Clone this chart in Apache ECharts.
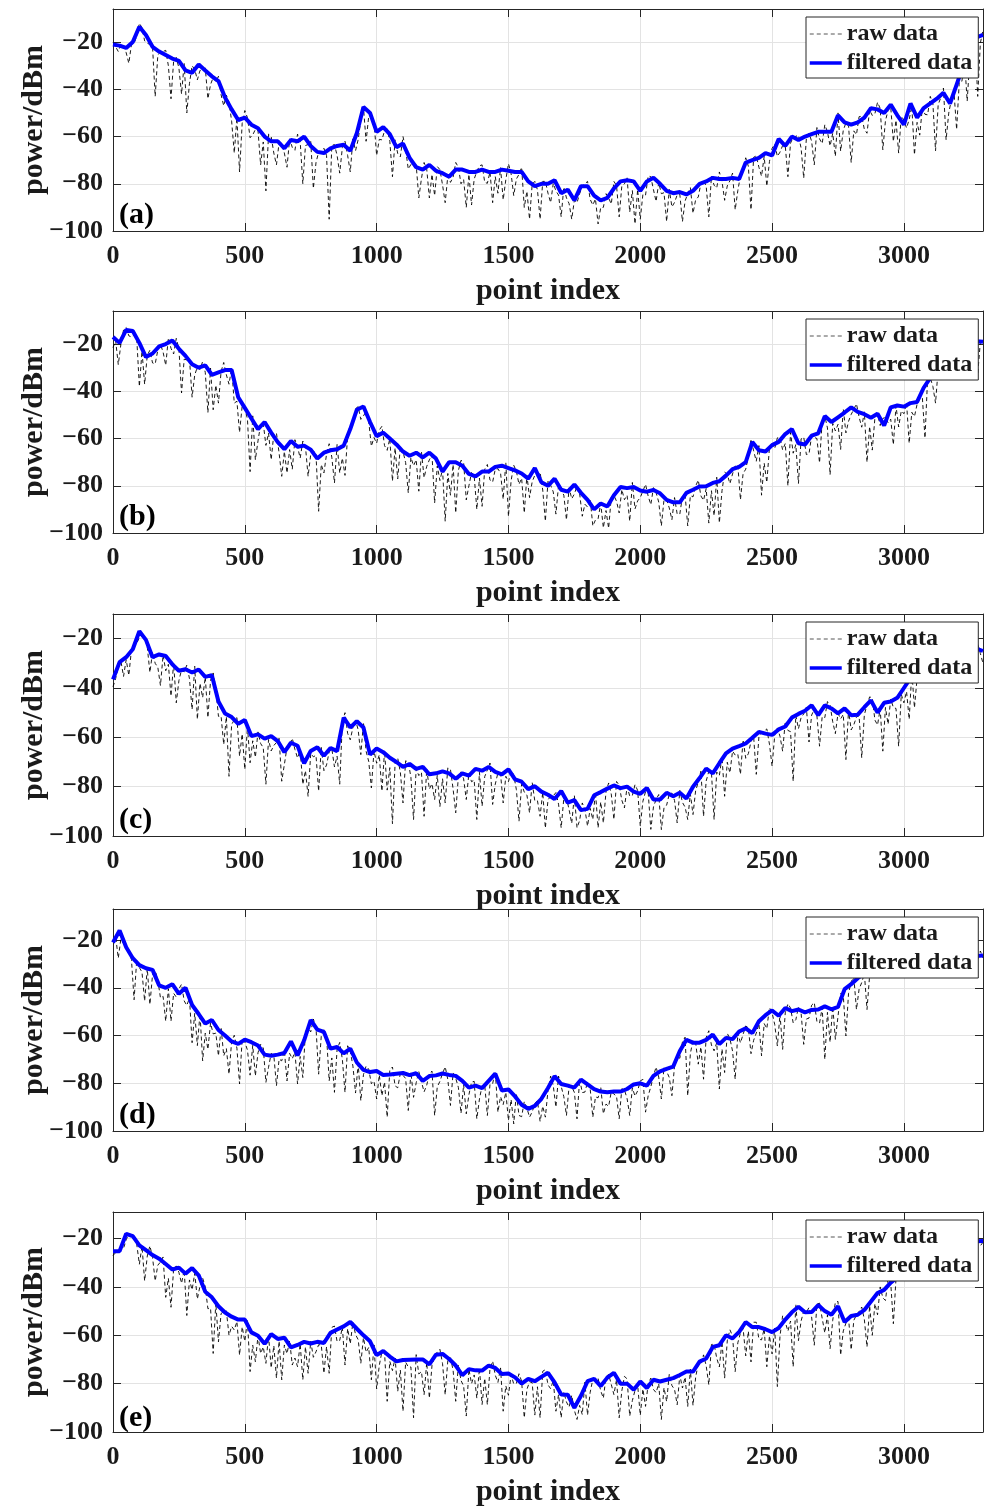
<!DOCTYPE html>
<html><head><meta charset="utf-8">
<script src="https://cdn.jsdelivr.net/npm/echarts@6/dist/echarts.min.js"></script>
<style>html,body{margin:0;padding:0;background:#fff}#c{width:986px;height:1508px}</style>
</head><body><div id="c"></div>
<script>
// ---------- data ----------
const panelLabels = ['(a)', '(b)', '(c)', '(d)', '(e)'];
const seriesNames = ['raw data', 'filtered data'];
const xName = 'point index';
const yName = 'power/dBm';
const xMin = 0, xMax = 3300, xTickStep = 500;
const yMin = -100, yTickStep = 20;
const yMaxes = [-6, -6, -10, -7, -9];
const filtStep = 25;   // filtered samples every 25 points (starting at 0)
const rawStep = 20;    // raw samples: "even" set at 0,20,40..., "odd" set at 10,30,50...
const rawOddStart = 10;

const filtA = [-21,-21.5,-22.5,-20,-13.5,-17,-22,-24,-25.5,-27,
-28,-32,-33,-29.5,-32,-34.5,-36.5,-43.5,-48.5,-53,
-52,-55,-56.5,-60,-62,-62,-65,-61.5,-62,-60,
-64,-66.5,-67,-65,-64,-63.5,-66,-58.5,-47.5,-50,
-58,-56,-59,-64.5,-63,-69,-73,-74,-72,-74.5,
-75.5,-77,-74,-74,-75,-75,-74,-75,-75,-74,
-74.5,-75,-75,-79,-81,-80,-80,-78.5,-84,-82.5,
-87,-81,-81,-85,-87,-86,-82,-79,-78.5,-79,
-83,-79,-77.5,-80,-83,-84,-83.5,-84.5,-83,-80,
-79,-77.5,-78,-78,-77.5,-78,-71,-70,-69,-67,
-68,-61,-64,-60,-61.5,-60,-59,-58,-58,-58,
-51,-54,-55,-54,-52,-48,-48.5,-50,-46.5,-51,
-55,-46,-52,-48,-46,-44,-41.5,-46,-38,-30,
-23,-18,-17];
const rawAEven = [-20,-24,-21.5,-29,-20.5,-12,-19.5,-21,-43,-24,
-23.5,-44,-26.5,-42,-50,-30,-36,-32,-44,-35,
-34.5,-47,-45.5,-67,-75,-49,-60.5,-57,-72,-83,
-60,-72,-62.8,-73,-64.6,-59,-80,-63.4,-82,-66.6,
-65,-95,-63.4,-75.5,-62,-75,-66,-53,-62,-51.6,
-68,-61.4,-56.8,-77,-67.2,-60,-73.8,-72.4,-86,-71,
-86,-85,-74,-88,-79.4,-71,-80,-90,-89,-74.8,
-72,-79.8,-88,-84,-86.8,-71.5,-85,-76,-90,-95,
-79,-95,-79,-88,-83,-94,-86,-95,-88,-81,
-79,-89,-97,-90,-86,-79,-94,-80,-92,-97,
-95,-84.8,-77,-87.5,-84.2,-96,-89.8,-84.7,-96,-84.2,
-92.5,-85.6,-78.4,-94,-80.6,-75,-87,-78.7,-91,-76.6,
-69,-91,-68.2,-76.8,-81,-65,-68.4,-63.8,-77,-60.3,
-59.5,-77.6,-58.6,-72,-61,-55,-64,-68.4,-66.2,-54.2,
-71,-59.2,-51.4,-58.6,-51.1,-45.5,-65.6,-48.9,-62.1,-67,
-53,-52.8,-67.7,-59.4,-50.6,-43,-66,-43.5,-61.4,-44.4,
-57,-36.6,-45,-30,-43,-15];
const rawAOdd = [-22,-21,-24.5,-21,-17.5,-14,-20.5,-22,-25.6,-24,
-30,-28,-31,-29,-37.6,-31.6,-32,-31,-38,-36.7,
-42.3,-42.5,-53.5,-52,-54.4,-52,-59.3,-57.5,-62.3,-59,
-67,-62.6,-67,-61,-65.8,-62,-63.8,-62,-71,-66.8,
-68,-63.8,-68,-64.6,-68,-61,-61.3,-47.5,-51.4,-53.8,
-61.2,-57.6,-62,-61.4,-68.6,-65.4,-71.8,-72,-77.8,-73.8,
-76,-72.7,-80.5,-76.7,-77.2,-73,-78.2,-76,-78,-72.4,
-79.4,-75,-77,-73.2,-78.3,-75.7,-78,-73,-83.2,-80.2,
-82.6,-79,-84,-79.8,-84.8,-81.4,-88.4,-87,-84.2,-80,
-86.6,-86.4,-90,-84.2,-88.6,-80.8,-80.9,-77.5,-82.9,-82.4,
-84.4,-76.7,-82.5,-79.5,-83.8,-82.4,-87.9,-84.5,-87.3,-81.6,
-86.8,-79.8,-81,-76.8,-81.8,-79,-80.9,-75.5,-82.9,-73.8,
-72.6,-68.8,-73,-68.4,-70.6,-63.2,-66.6,-64,-62.8,-59.9,
-64.9,-60.8,-62,-56.2,-63,-58,-58.6,-50,-57.4,-55.6,
-57.6,-51.6,-57,-48.8,-50.3,-48.1,-53.3,-47.5,-53.1,-51.4,
-56.4,-47.2,-54,-47.8,-50.8,-46.2,-46.5,-39.5,-50.1,-41.2,
-36.8,-27.6,-27,-20,-20.4];

const filtB = [-17,-19.5,-14,-14.5,-19.5,-25.5,-24,-21,-20,-18.5,
-22,-25,-28.5,-30,-29,-33,-32,-31,-31,-42.5,
-47,-51.5,-56,-53,-57.5,-61.5,-64.5,-61,-63.5,-63,
-64.7,-68.5,-66,-65,-64.5,-63,-56,-47.8,-46.4,-53,
-59,-57.5,-60,-62.5,-65.5,-67.3,-66,-68,-66,-68.5,
-74,-70,-70,-71.5,-75,-76,-74,-74,-72,-71.5,
-72.5,-73.5,-74.8,-77,-72.5,-78.5,-80,-77,-81.7,-82.5,
-79.5,-83,-86,-90,-87.5,-88.8,-84,-80.5,-81,-80.5,
-82,-82.5,-81.8,-83.2,-86,-87,-87,-83,-81.7,-80.3,
-80.2,-78.8,-78.1,-75.7,-73,-72,-70,-61.5,-65,-65.5,
-62.8,-61.4,-58.1,-56,-62,-62.5,-58.8,-57.8,-50.5,-53,
-51,-49,-46.8,-48.7,-49.7,-51.2,-49.5,-54.5,-46.8,-46,
-46.5,-45,-44.5,-38.5,-34.3,-31,-28,-25,-22.5,-20.5,
-19.5,-18.8,-19];
const rawBEven = [-21.5,-28.7,-14,-16.5,-16,-38,-37,-22.6,-28.4,-20.1,
-29,-21.8,-17.6,-40.7,-26.7,-42.5,-29.7,-27.4,-49,-47.8,
-45,-27.8,-37,-45,-57.4,-47,-74,-69,-54.1,-62.9,
-69,-57.7,-76,-74.6,-73,-63.5,-61.1,-76,-65.2,-90.8,
-74.6,-62.2,-78.8,-74.6,-75.6,-56,-47.4,-51.9,-48.6,-63.3,
-62,-54.8,-65,-78,-77.1,-65.5,-83,-71.5,-82.3,-76.6,
-69,-87.3,-77.8,-95,-84,-91.5,-69.2,-86,-74.4,-90,
-88.7,-71,-78.4,-72.8,-85.7,-93,-71.3,-79.4,-91.5,-85,
-75.5,-74.3,-95,-79.8,-92,-81.7,-94.4,-85.5,-80.1,-92.9,
-89,-97,-94,-97.8,-98,-84,-91.5,-85.9,-95,-89.8,
-85,-79.4,-88,-82.9,-97,-86,-94.4,-92,-84.4,-97,
-84.7,-77.6,-86.2,-95.8,-92.7,-95.7,-74.2,-79.1,-71.6,-85.9,
-73,-60.2,-69.6,-84,-78.6,-62.8,-59.7,-64.8,-80,-66.2,
-79,-59.4,-66.5,-59.5,-70.3,-50.5,-75.3,-56.8,-64.6,-57.6,
-49.8,-45.3,-55.2,-70,-64.9,-49.5,-51.5,-53.3,-62.6,-55.1,
-49.5,-62,-50.7,-43,-59.8,-34.3,-45,-34.2,-25.8,-33.5,
-25.5,-17.9,-25.9,-20.2,-32.8,-19];
const rawBOdd = [-18.5,-20,-13,-17,-17.5,-23,-24.7,-28,-22.6,-23.4,
-17.4,-24.2,-22,-26.4,-26.1,-33.1,-30.8,-32,-30.2,-37.4,
-31.6,-33,-30,-44.2,-46.2,-51.8,-50.4,-61,-53.6,-57.7,
-58.1,-66.1,-65.5,-64.7,-60.5,-68.3,-63.3,-66.7,-66.7,-71,
-66.6,-67.9,-62.5,-68.3,-58.8,-54.7,-46.5,-50.4,-52.7,-59.6,
-56.4,-63,-60,-64,-63.3,-70.2,-68,-69,-65.6,-71.8,
-67,-71.6,-73,-74.8,-71,-73.6,-70.2,-80,-75.8,-76.8,
-73,-77.6,-73,-74.6,-70.1,-77.9,-73.8,-76.8,-75.6,-78.3,
-75.9,-81.8,-78,-82.6,-79.8,-84,-80.9,-83.5,-83.3,-87.8,
-85.6,-94.5,-87.5,-90.5,-84.9,-86.6,-81.6,-84,-78.6,-86.4,
-82.2,-84.4,-80.8,-86.9,-85.9,-89.4,-85,-92,-83.8,-84.2,
-80.1,-84.3,-81.2,-82.1,-76.4,-82.1,-75.2,-75,-71.2,-74.8,
-67.6,-65.2,-63,-70.4,-63.9,-64.2,-59.7,-62.1,-57.4,-62.6,
-60.2,-66.8,-58.8,-60,-52.4,-55.5,-53.6,-54,-47.4,-52.7,
-47.6,-50.9,-48.7,-54.9,-51.2,-54.5,-51,-51.8,-46.2,-48.3,
-44.9,-48.9,-45.5,-42.7,-34,-38,-30.4,-30,-24.6,-27.5,
-22.7,-23.3,-17.5,-23.9,-18.9];

const filtC = [-36.5,-29.5,-27.5,-24.3,-17,-20.5,-27.5,-26.4,-27,-30.4,
-33,-32.4,-33.7,-32.5,-35.5,-34.8,-45.5,-50.3,-51.8,-54.5,
-53,-59.5,-58.8,-60.5,-59.5,-61.5,-66,-62.2,-63.4,-70.5,
-65.5,-64,-67.5,-64.3,-65.6,-52,-56,-53.5,-56,-67,
-64.5,-66,-68.3,-70,-72,-70.8,-72.8,-72,-75,-74.6,
-73.8,-74.6,-76.8,-74.6,-75.5,-72.8,-73.5,-72,-74,-75,
-73,-77,-78,-81,-79.8,-82,-83.3,-85,-81.8,-86.5,
-85.5,-89.5,-89,-83.5,-82.2,-80.8,-79.5,-80.6,-80,-82,
-82.9,-80.5,-85.2,-85.2,-82.5,-83.9,-82.5,-84.8,-80,-76.5,
-72.7,-74.6,-70.5,-66.5,-64.6,-63.6,-62.5,-60.2,-57.8,-58.5,
-59,-56.8,-55.6,-52,-50.5,-49.2,-47,-51,-47,-48.3,
-50.3,-48.3,-51,-50.8,-47.8,-45,-50,-46,-45.5,-44,
-40,-36,-33,-31,-29,-27.5,-26,-25,-24,-23.5,
-23.5,-24,-25];
const rawCEven = [-39.5,-31.4,-35.3,-34.9,-22,-19.5,-19.3,-33.7,-30,-39,
-33,-43.3,-46,-32.6,-30.7,-48.7,-52.7,-43.9,-52,-33.9,
-51.5,-62.9,-75.8,-52.9,-67.6,-73,-70.3,-68.1,-62.5,-79,
-65.5,-62.1,-77.8,-64.1,-60.4,-68.4,-79.1,-83.9,-67.9,-81.8,
-73.5,-65.9,-72,-79,-50,-61,-53,-67,-65.6,-80.5,
-70.5,-81.8,-81.4,-95,-68.4,-86.6,-70,-93.3,-75.5,-92,
-81,-85.2,-88.1,-86.6,-73,-90.6,-74,-85.2,-78,-93.3,
-87.9,-73.3,-87.2,-74.4,-86.6,-78,-75.2,-94,-82.2,-90.6,
-85.8,-92,-96.8,-84,-82.4,-96.7,-84.6,-94.9,-96.7,-86.6,
-96,-93.3,-96.7,-94.7,-78.5,-93.3,-79.4,-88.6,-83.8,-79.2,
-96,-82,-97.3,-85.2,-97.4,-87.5,-82.6,-94.7,-86.4,-93.3,
-91.3,-78.2,-92,-73.8,-93.3,-75.5,-83.9,-74.4,-67.2,-75,
-68.5,-61.7,-75,-58.1,-56.6,-71.7,-56.2,-65.6,-57.2,-77.8,
-56.5,-50.5,-61.9,-48.6,-63.6,-52,-47,-58.5,-52.5,-69,
-57,-51.8,-68.3,-46.9,-44,-55,-65.6,-54.7,-47.9,-63.6,
-46,-52.7,-48,-32.2,-28.6,-34,-26.8,-35.6,-28.6,-21.8,
-30,-24.6,-33,-23.7,-22.2,-30];
const rawCOdd = [-36.2,-29.1,-28.5,-24.5,-21.9,-18.9,-23.4,-25.5,-31.6,-26.6,
-30.4,-29.9,-37,-33.5,-36.2,-31.2,-38.1,-35.5,-36.9,-40.2,
-51.4,-51.6,-54.8,-52,-58.6,-55.6,-61.4,-57.8,-64.2,-60.9,
-63.3,-60.4,-71,-63,-64.9,-65.2,-73.5,-66.5,-67.3,-64.1,
-71.2,-64.6,-67.6,-53.7,-58.4,-56,-57,-54,-69.8,-65.5,
-67.1,-65.5,-72.3,-70.7,-74.2,-69.5,-76.2,-72.8,-74.2,-72.8,
-78.8,-75.4,-76.8,-72.4,-80.9,-75.9,-76.8,-74.5,-77.3,-74.2,
-75.9,-70.4,-79,-74.8,-75.8,-73.6,-81.2,-79,-83.4,-78.3,
-85.7,-82.3,-85.3,-83.7,-87.1,-84.7,-89.3,-83.5,-93.7,-89.2,
-88.8,-82.2,-86.2,-82.1,-83,-77.9,-85.5,-80,-83.6,-81.5,
-85.9,-82.4,-88.2,-83.2,-88.6,-83,-85.6,-81.5,-88.3,-82.9,
-81.6,-73.7,-77.7,-74.2,-74.1,-67.9,-70.1,-65.6,-66.8,-61,
-66.6,-59.7,-59.8,-57.4,-62.8,-59.1,-59.6,-53.6,-57.7,-51.1,
-52,-47.8,-51,-51.2,-51.6,-45.5,-53.7,-50.3,-50.7,-48.9,
-54.9,-51.2,-50.8,-43.6,-53,-48.4,-47.9,-44.5,-48.3,-42.6,
-41.4,-33.4,-36,-31.4,-31.8,-27.4,-31.2,-27,-28.2,-22.4,
-28.8,-23.5,-25.5,-22.9,-26];

const filtD = [-21,-16,-23,-27.6,-30.5,-31.8,-32.5,-39,-40,-38.5,
-42.5,-40,-47.2,-51,-55,-53.5,-57.7,-60,-62.5,-63.5,
-61.7,-62.8,-64.2,-68,-68.5,-68,-67.3,-62.5,-68.3,-62,
-53.5,-57.5,-58.5,-65.5,-64.8,-67.5,-65.5,-71.3,-74.4,-75.3,
-74.9,-76.5,-76.3,-76,-75.7,-76.6,-75.8,-79,-77,-76.7,
-75.9,-76.5,-76.9,-79,-81.8,-81,-82,-79,-76,-83,
-82.6,-85.5,-89,-90.7,-89.5,-86.5,-82,-77,-80.3,-81,
-81.8,-78.5,-80.5,-82.5,-83.5,-83.8,-83.5,-83.5,-82.4,-80.5,
-80,-81,-76.9,-75,-74,-73,-66.5,-61.8,-63,-63,
-61.8,-59.6,-63.6,-61,-61.5,-58.3,-57,-59,-54,-51.5,
-49.5,-51.7,-48.5,-49.8,-49.1,-50.3,-49.3,-49.1,-47.8,-49,
-48,-40.6,-38.5,-36,-34,-32.5,-31,-30,-29,-28.5,
-28,-27.7,-27.5,-27.3,-27,-27,-27,-27,-27,-27,
-27,-26.7,-26.5];
const rawDEven = [-20.5,-27.6,-21.5,-23.3,-45,-31.5,-45.5,-47,-32.8,-44.2,
-54,-54,-43.9,-38.5,-47.4,-63,-64.2,-70.6,-65.8,-59.3,
-68.5,-68.5,-76.2,-59.9,-80.3,-62.7,-76.6,-76.9,-63.7,-79.6,
-67.5,-81,-70.6,-79,-69.7,-80.3,-77.6,-56.9,-53.1,-76.2,
-57.5,-79,-83.8,-62.9,-83.8,-66.5,-84.1,-87.3,-72.8,-80.2,
-86.6,-85.2,-94.2,-73.2,-81.9,-76.7,-91.4,-85.9,-75.1,-83.6,
-76,-93.5,-79.2,-73.1,-89.3,-77.9,-92.6,-92.8,-79.5,-94.9,
-81,-93.5,-80.2,-92.1,-88.9,-95.6,-97,-93.5,-87.7,-94.2,
-88.5,-96,-94.2,-77,-90,-81.3,-93.5,-81.5,-94.9,-83.9,
-79.5,-94.2,-86.1,-92.8,-89.7,-84.5,-94.9,-82.8,-93.5,-85.4,
-79,-92.1,-81.5,-73.2,-86.6,-75,-85.2,-69.1,-62.6,-85.2,
-62,-72,-78.3,-58,-66.4,-82.4,-75.5,-61.3,-78.3,-63.1,
-56,-67.6,-59,-68.5,-57.1,-50.5,-64.4,-65.8,-46.7,-54.7,
-48.1,-63.7,-52.7,-46.2,-54.8,-70,-62.8,-61.6,-42.4,-60.2,
-37.5,-49.1,-37.8,-49.1,-35,-32,-34,-29.4,-26.8,-33.4,
-27,-33,-30.6,-24.4,-33.2,-28,-33,-27,-25,-32,
-26,-32,-30,-23.9,-28,-27.5];
const rawDOdd = [-18.5,-19.4,-23.5,-28.2,-28.3,-33.5,-31.9,-34.5,-36.7,-43.6,
-40.4,-42.3,-40.5,-45.5,-44.3,-50.7,-50.8,-59,-54.8,-59,
-56.6,-65.5,-62.5,-65.3,-61.4,-66.1,-64.1,-67.2,-65.2,-73.3,
-68.3,-69.9,-66.3,-67.5,-67,-68.8,-58.3,-58.5,-56.7,-60.1,
-60.3,-69.4,-65.8,-70,-64.3,-72.8,-71.9,-76.4,-74.1,-79.1,
-76.5,-79.5,-74.3,-81.1,-75.8,-78,-75.4,-79.8,-79.4,-80.8,
-74.9,-81.5,-75.9,-78.4,-75.7,-81.7,-80.6,-84.8,-79.2,-86.6,
-80.8,-80.4,-75,-85.6,-83.8,-86.8,-84.2,-94,-90.4,-92,
-87.3,-89.6,-83,-81,-77,-85.6,-81.2,-83.8,-78.2,-83.7,
-82.3,-85.7,-81.5,-88.7,-83.6,-85.5,-82.3,-86.4,-81.9,-83.2,
-78.4,-85.2,-76.9,-77.4,-73.4,-77.6,-72.7,-69.5,-60.7,-67.5,
-63,-64.8,-60.8,-64,-63,-65.6,-59.1,-66.5,-59,-59.5,
-56.8,-62,-55,-55,-48.3,-55.4,-51.1,-50.5,-48.5,-53.4,
-50.6,-53.1,-47.3,-54.1,-48.3,-50.3,-47.8,-52,-43.1,-42.3,
-35.5,-40.6,-34,-34.8,-30.6,-34.6,-30.8,-32,-26.6,-33.2,
-27.9,-29.7,-26.5,-31.3,-28.1,-30,-25,-32,-27,-29,
-26,-31,-28,-28,-24.6];

const filtE = [-25.2,-25.2,-18,-19,-22.8,-24.8,-26.8,-28.3,-30.5,-32.8,
-32,-34.5,-32.2,-35.2,-42,-44.3,-48,-50.6,-52.3,-53.5,
-53.5,-58.8,-60.2,-63.5,-59.5,-61.5,-61,-65,-64,-62.7,
-63.4,-62.7,-63.2,-59,-57.6,-56.3,-54.5,-57.3,-60,-62.5,
-68.2,-66.5,-68.8,-70.8,-70.2,-70.1,-70,-70,-72,-68,
-67.7,-69.8,-72.5,-76.5,-74,-74.5,-74.6,-72.5,-73.5,-76,
-75.8,-77.4,-80,-78,-79,-77.2,-75.5,-79.5,-84.5,-84.6,
-90,-85,-79,-78,-81,-77.5,-75.5,-80,-80,-82.5,
-79.1,-81.8,-78.4,-79.1,-78.4,-77.7,-76.4,-75,-75,-70.9,
-69.6,-64.8,-64.1,-60,-61.3,-58.6,-54.5,-56.6,-56.6,-57.5,
-58.7,-57,-53.5,-50.5,-48.2,-50.5,-50.4,-47.5,-50,-51.5,
-48,-54.5,-52,-51.5,-49.5,-46,-42.5,-41.2,-38.2,-36,
-33,-30,-28,-26,-24.5,-23.3,-22.5,-22,-21.8,-21.5,
-21.3,-21.1,-21];
const rawEEven = [-27,-25.5,-24,-18,-19,-30.6,-37.5,-23,-37.5,-29.7,
-44.3,-48.4,-31.3,-38.5,-51.8,-41.2,-45,-36.3,-49,-67.5,
-62.7,-50.1,-60,-57.8,-68.2,-62.5,-75,-70.9,-67.5,-71.6,
-73.5,-77.7,-78.4,-67.6,-72.3,-73,-78.4,-75.7,-69.1,-63.9,
-75.7,-75.7,-56.2,-62.1,-72.3,-63.5,-59.7,-71.6,-67,-78.4,
-82.2,-66.8,-87.3,-74.6,-83.2,-91.4,-73.1,-94.1,-76,-84.6,
-86,-68.8,-65.8,-84.6,-69.3,-87.3,-78.7,-93.4,-80,-86,
-88.6,-88.7,-70.7,-79.5,-91.4,-84.8,-80.1,-75.9,-94.1,-79.2,
-93,-94.1,-74.2,-82.1,-91.4,-94.1,-87.6,-84.8,-94.8,-92.8,
-93,-78.2,-77.8,-86,-76.1,-84.5,-94.1,-77,-93.4,-82.8,
-93.1,-89.4,-77.7,-83.7,-94.8,-87.4,-80.8,-88.7,-81.8,-89.4,
-89,-71.7,-68.1,-80.5,-63.7,-73.1,-77.7,-57.7,-75,-59,
-68.5,-71,-54.6,-61.9,-73,-67.7,-81.2,-51.9,-58.3,-73,
-62.2,-50,-48.5,-64.1,-46.7,-59,-65.5,-46.3,-68.2,-55,
-66,-51.6,-48.3,-64.8,-60,-51.5,-44.5,-36.4,-55.2,-36.4,
-36,-30.6,-26.8,-32.2,-24.7,-33.5,-26.5,-19.8,-28.3,-22.9,
-34,-21.6,-19.4,-26.2,-23,-21.5];
const rawEOdd = [-25.8,-24.5,-20.5,-18.8,-22.3,-23.1,-27.2,-27.8,-31,-27.6,
-36.4,-32.6,-34,-33,-37.1,-34.4,-39.6,-40,-48.8,-46.5,
-51,-49.9,-56.3,-54.3,-56.5,-53.6,-64.1,-60.2,-64.8,-60.1,
-64.3,-62.4,-64,-62.2,-69.4,-63.5,-64.8,-62.4,-66.8,-64,
-64.7,-56.7,-62.6,-56.6,-57.2,-54.6,-61.8,-61,-65,-64,
-72.5,-67,-70.8,-69.4,-74.4,-71.1,-73.1,-68,-75,-71.2,
-72.4,-66.9,-71.7,-70.4,-74.4,-72.1,-81,-74,-76.4,-73.6,
-77.8,-73.7,-76.5,-73.5,-80.9,-76.4,-79.9,-79,-82.4,-79.6,
-81.3,-74.9,-80.5,-78.7,-84.5,-83.5,-89.7,-91,-89,-79.4,
-83.6,-78.6,-83,-77.2,-80.3,-78.3,-83,-78,-87,-80.5,
-82.2,-80.1,-82.4,-80,-81.7,-76.1,-82.4,-76.4,-77.3,-74,
-77.4,-71.6,-72.6,-63.8,-69.4,-62.5,-62.3,-60.3,-63.1,-57.1,
-58.3,-54.6,-61.6,-57.3,-60.2,-57,-60.3,-54.5,-54.1,-47.1,
-54.1,-50.5,-52.4,-47.1,-53,-51.6,-53.8,-46,-58.2,-53,
-53.8,-50.1,-53.5,-47.7,-46.9,-40,-45.6,-38.2,-36.5,-33.2,
-35.8,-30.6,-31,-24.4,-30.1,-24,-25.2,-21.5,-26.1,-22.9,
-24.7,-19.5,-26.3,-21.1,-23];

const filtAll = [filtA, filtB, filtC, filtD, filtE];
const rawEvenAll = [rawAEven, rawBEven, rawCEven, rawDEven, rawEEven];
const rawOddAll = [rawAOdd, rawBOdd, rawCOdd, rawDOdd, rawEOdd];

// ---------- layout / style ----------
const gridTops = [9, 311, 614, 909, 1212];
const gridH = 222, gridLeft = 113, gridW = 875;
const FONT = '"Liberation Serif", "Times New Roman", serif';
const TXT = '#1a1a1a', AX = '#262626';
const RAW_STYLE = { color: '#000', width: 0.9, type: [4, 3] };
const FILT_STYLE = { color: '#0000ff', width: 4 };

const toPairs = (arr, step, start) => arr.map((v, i) => [start + i * step, v]);
const mergeRaw = (even, odd) =>
  toPairs(even, rawStep, 0).concat(toPairs(odd, rawStep, rawOddStart)).sort((a, b) => a[0] - b[0]);

const grids = [], xAxes = [], yAxes = [], series = [], legends = [], titles = [];
for (let p = 0; p < 5; p++) {
  grids.push({ left: gridLeft, top: gridTops[p], width: gridW, height: gridH, show: false });
  xAxes.push({
    type: 'value', gridIndex: p, position: 'bottom', min: xMin, max: xMax, interval: xTickStep,
    name: xName, nameLocation: 'middle', nameGap: 45, nameMoveOverlap: false,
    nameTextStyle: { fontFamily: FONT, fontWeight: 'bold', fontSize: 30, color: TXT },
    axisLine: { show: true, onZero: false, lineStyle: { color: AX, width: 1 } },
    axisTick: { show: true, inside: true, length: 8, lineStyle: { color: AX } },
    axisLabel: { fontFamily: FONT, fontWeight: 'bold', fontSize: 26, color: TXT, margin: 12,
                 formatter: v => (v % xTickStep === 0 ? String(v) : '') },
    splitLine: { show: true, lineStyle: { color: '#e3e3e3', width: 1 } }
  });
  xAxes.push({
    type: 'value', gridIndex: p, position: 'top', min: xMin, max: xMax, interval: xTickStep,
    axisLine: { show: true, onZero: false, lineStyle: { color: AX, width: 1 } },
    axisTick: { show: true, inside: true, length: 8, lineStyle: { color: AX } },
    axisLabel: { show: false }, splitLine: { show: false }
  });
  yAxes.push({
    type: 'value', gridIndex: p, position: 'left', min: yMin, max: yMaxes[p], interval: yTickStep,
    name: yName, nameLocation: 'middle', nameGap: 64, nameRotate: 90, nameMoveOverlap: false,
    nameTextStyle: { fontFamily: FONT, fontWeight: 'bold', fontSize: 30, color: TXT },
    axisLine: { show: true, onZero: false, lineStyle: { color: AX, width: 1 } },
    axisTick: { show: true, inside: true, length: 8, lineStyle: { color: AX } },
    axisLabel: { fontFamily: FONT, fontWeight: 'bold', fontSize: 26, color: TXT, margin: 10,
                 formatter: v => (v % yTickStep === 0 ? String(v).replace('-', '\u2212') : '') },
    splitLine: { show: true, lineStyle: { color: '#e3e3e3', width: 1 } }
  });
  yAxes.push({
    type: 'value', gridIndex: p, position: 'right', min: yMin, max: yMaxes[p], interval: yTickStep,
    axisLine: { show: true, onZero: false, lineStyle: { color: AX, width: 1 } },
    axisTick: { show: true, inside: true, length: 8, lineStyle: { color: AX } },
    axisLabel: { show: false }, splitLine: { show: false }
  });
  series.push({
    type: 'line', name: seriesNames[0], xAxisIndex: 2 * p, yAxisIndex: 2 * p,
    data: mergeRaw(rawEvenAll[p], rawOddAll[p]), symbol: 'none', showSymbol: false, silent: true, z: 2,
    lineStyle: RAW_STYLE, itemStyle: { color: '#000' }
  });
  series.push({
    type: 'line', name: seriesNames[1], xAxisIndex: 2 * p, yAxisIndex: 2 * p,
    data: toPairs(filtAll[p], filtStep, 0), symbol: 'none', showSymbol: false, silent: true, z: 3,
    lineStyle: FILT_STYLE, itemStyle: { color: '#0000ff' }
  });
  legends.push({
    data: [
      { name: seriesNames[0], lineStyle: { color: '#555', width: 1, type: [4, 3] }, itemStyle: { opacity: 0 } },
      { name: seriesNames[1], lineStyle: { color: '#0000ff', width: 3.5, type: 'solid' }, itemStyle: { opacity: 0 } }
    ],
    orient: 'vertical', left: 806, top: gridTops[p] + 8,
    itemWidth: 32, itemHeight: 14, itemGap: 5, padding: [5, 6, 3, 2],
    backgroundColor: '#fff', borderColor: AX, borderWidth: 1, borderRadius: 0,
    selectedMode: false, z: 10,
    itemStyle: { opacity: 0 },
    textStyle: { fontFamily: FONT, fontWeight: 'bold', fontSize: 24, color: TXT, lineHeight: 24 }
  });
  titles.push({
    text: panelLabels[p], left: 119, top: gridTops[p] + gridH - 31, padding: 0,
    textStyle: { fontFamily: FONT, fontWeight: 'bold', fontSize: 30, color: '#000' }
  });
}

const chart = echarts.init(document.getElementById('c'), null, { renderer: 'canvas' });
chart.setOption({
  animation: false,
  backgroundColor: '#fff',
  title: titles,
  legend: legends,
  grid: grids,
  xAxis: xAxes,
  yAxis: yAxes,
  series: series
});
</script>
</body></html>
